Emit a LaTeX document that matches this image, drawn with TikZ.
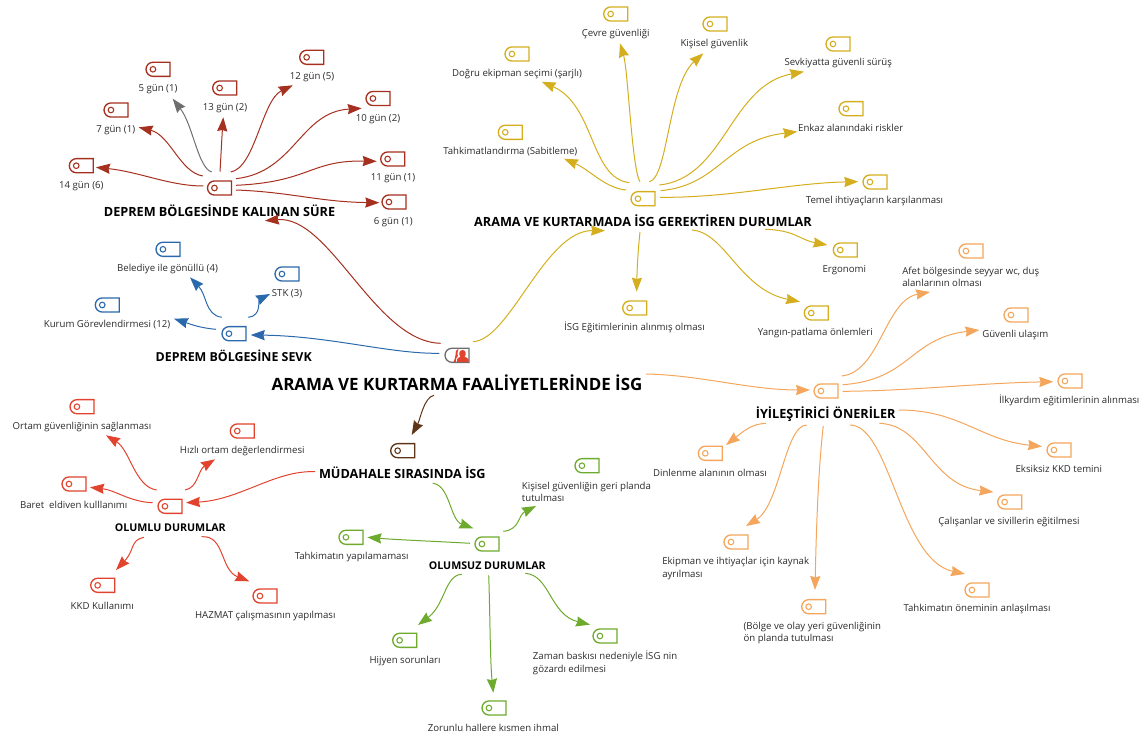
\documentclass[tikz,border=0pt]{standalone}
\usepackage{fontspec}
\setmainfont{Open Sans}
\usetikzlibrary{shapes.misc,arrows.meta}
\definecolor{cRed}{HTML}{A5301F}
\definecolor{cBlue}{HTML}{2A69AC}
\definecolor{cYel}{HTML}{D4AE1E}
\definecolor{cOra}{HTML}{F4A65C}
\definecolor{cBro}{HTML}{5F3517}
\definecolor{cCor}{HTML}{E2432E}
\definecolor{cGre}{HTML}{6DAA2D}
\definecolor{cGry}{HTML}{6E6E6E}
\definecolor{cTxt}{HTML}{2A2A2A}
\tikzset{
  tagbase/.style={rounded rectangle, rounded rectangle right arc=none, draw=#1, fill=white,
    line width=1pt, minimum width=18pt, minimum height=10.6pt, inner sep=0pt, outer sep=0pt},
  tagn/.style={tagbase=#1,
    path picture={\draw[#1,line width=.8pt] ([xshift=5.2pt]path picture bounding box.west) circle (2.1pt);}},
  lab/.style={inner sep=0pt, text=cTxt, font=\fontsize{7.22}{9.4}\selectfont, align=center},
  labl/.style={inner sep=0pt, text=cTxt, font=\fontsize{7.22}{9.4}\selectfont, align=left, anchor=west},
  head/.style={inner sep=0pt, text=black, font=\fontsize{9.5}{11}\selectfont\bfseries},
  subhead/.style={inner sep=0pt, text=black, font=\fontsize{8}{10}\selectfont\bfseries},
  rootlab/.style={inner sep=0pt, text=black, font=\fontsize{12.7}{14}\selectfont\bfseries},
  link/.style={draw=#1, line width=.75pt, -{Stealth[length=10.5pt,width=7.6pt,inset=1pt,fill=#1]}},
}
\begin{document}
\begin{tikzpicture}[x=0.75pt,y=-0.75pt]
\useasboundingbox (0,0) rectangle (1148,738);
% root
\node[tagbase=cGry] (root) at (457,355.3) {};
\fill[cCor] (457,362) -- (457,359.5) .. controls (457,357.5) and (459.5,357.5) .. (460.5,356.8) .. controls (458.5,355) and (458.8,350) .. (462.5,350) .. controls (466.2,350) and (466.5,355) .. (464.5,356.8) .. controls (465.5,357.5) and (468.5,357.5) .. (468.5,359.5) -- (468.5,362) -- cycle;
\fill[cCor] (453.5,362) .. controls (454,359) and (456,357.5) .. (455.5,355) .. controls (455,352) and (456,349.5) .. (458.6,348.6) .. controls (457.5,351) and (457,354) .. (457.8,356) .. controls (456.5,357.5) and (455.5,359.5) .. (455.8,362) -- cycle;
\node[rootlab] (rootl) at (457,382.3) {ARAMA VE KURTARMA FAALİYETLERİNDE İSG};

% stay branch
\node[tagn=cRed] (stay) at (219.5,188) {};
\node[head] (stayl) at (219.5,210.7) {DEPREM BÖLGESİNDE KALINAN SÜRE};
\node[tagn=cRed] (a14) at (81.3,165.7) {}; \node[lab] (a14l) at (81.3,186) {14 gün (6)};
\node[tagn=cRed] (a7) at (116,110) {};     \node[lab] (a7l) at (115.7,130) {7 gün (1)};
\node[tagn=cRed] (a5) at (158,69.3) {};    \node[lab] (a5l) at (158,89.3) {5 gün (1)};
\node[tagn=cRed] (a13) at (224.7,88) {};   \node[lab] (a13l) at (225,108) {13 gün (2)};
\node[tagn=cRed] (a12) at (311.7,57.3) {}; \node[lab] (a12l) at (312,77.3) {12 gün (5)};
\node[tagn=cRed] (a10) at (378,98.5) {};   \node[lab] (a10l) at (378,118.7) {10 gün (2)};
\node[tagn=cRed] (a11) at (392.7,159) {};  \node[lab] (a11l) at (393,178) {11 gün (1)};
\node[tagn=cRed] (a6) at (394,202) {};     \node[lab] (a6l) at (393.3,221.7) {6 gün (1)};

% blue branch
\node[tagn=cBlue] (sevk) at (234,333.7) {};
\node[head,font=\fontsize{9.3}{11}\selectfont\bfseries] (sevkl) at (233.7,355.7) {DEPREM BÖLGESİNE SEVK};
\node[tagn=cBlue] (b1) at (168,249.3) {};  \node[lab] (b1l) at (167.5,269) {Belediye ile gönüllü (4)};
\node[tagn=cBlue] (b2) at (287,274) {};    \node[lab] (b2l) at (287,294) {STK (3)};
\node[tagn=cBlue] (b3) at (107.3,305) {};  \node[lab] (b3l) at (107,324.7) {Kurum Görevlendirmesi (12)};

% yellow branch
\node[tagn=cYel] (c) at (643,198.7) {};
\node[head] (cl) at (643,220.7) {ARAMA VE KURTARMADA İSG GEREKTİREN DURUMLAR};
\node[tagn=cYel] (c1) at (615.7,14) {};    \node[lab] (c1l) at (615.7,34) {Çevre güvenliği};
\node[tagn=cYel] (c2) at (715,24) {};      \node[lab] (c2l) at (714.3,44) {Kişisel güvenlik};
\node[tagn=cYel] (c3) at (517,54) {};      \node[lab] (c3l) at (517,74) {Doğru ekipman seçimi (şarjlı)};
\node[tagn=cYel] (c4) at (510.3,132.3) {}; \node[lab] (c4l) at (510.3,152) {Tahkimatlandırma (Sabitleme)};
\node[tagn=cYel] (c5) at (838,44) {};      \node[lab] (c5l) at (838.3,63.3) {Sevkiyatta güvenli sürüş};
\node[tagn=cYel] (c6) at (851,108.7) {};   \node[lab] (c6l) at (850.7,128.3) {Enkaz alanındaki riskler};
\node[tagn=cYel] (c7) at (875,182) {};     \node[lab] (c7l) at (874.5,201.3) {Temel ihtiyaçların karşılanması};
\node[tagn=cYel] (c8) at (634.7,308) {};   \node[lab] (c8l) at (634.5,327.3) {İSG Eğitimlerinin alınmış olması};
\node[tagn=cYel] (c9) at (845.3,250) {};   \node[lab] (c9l) at (844.3,270) {Ergonomi};
\node[tagn=cYel] (c10) at (816.3,313) {};  \node[lab] (c10l) at (815.3,333.3) {Yangın-patlama önlemleri};

% orange branch
\node[tagn=cOra] (d) at (826,391) {};
\node[head] (dl) at (825.7,414) {İYİLEŞTİRİCİ ÖNERİLER};
\node[tagn=cOra] (d1) at (971,251) {};     \node[labl] (d1l) at (902,277) {Afet bölgesinde seyyar wc, duş\\alanlarının olması};
\node[tagn=cOra] (d2) at (1016,315) {};    \node[lab] (d2l) at (1015.3,335.3) {Güvenli ulaşım};
\node[tagn=cOra] (d3) at (1070,381) {};    \node[lab] (d3l) at (1069.3,400.7) {İlkyardım eğitimlerinin alınması};
\node[tagn=cOra] (d4) at (1059,450) {};    \node[lab] (d4l) at (1058.8,469.3) {Eksiksiz KKD temini};
\node[tagn=cOra] (d5) at (1009.7,502) {};  \node[lab] (d5l) at (1009,522) {Çalışanlar ve sivillerin eğitilmesi};
\node[tagn=cOra] (d6) at (977,590) {};     \node[lab] (d6l) at (977,609.3) {Tahkimatın öneminin anlaşılması};
\node[tagn=cOra] (d7) at (813.7,606.7) {}; \node[labl] (d7l) at (743.3,633) {(Bölge ve olay yeri güvenliğinin\\ön planda tutulması};
\node[tagn=cOra] (d8) at (736,542) {};     \node[labl] (d8l) at (662,568.3) {Ekipman ve ihtiyaçlar için kaynak\\ayrılması};
\node[tagn=cOra] (d9) at (710.3,453.3) {}; \node[lab] (d9l) at (710,473.3) {Dinlenme alanının olması};

% brown branch
\node[tagn=cBro] (e) at (402.7,450.7) {};
\node[head] (el) at (402.3,472.7) {MÜDAHALE SIRASINDA İSG};

% coral branch
\node[tagn=cCor] (f) at (170,506.3) {};
\node[subhead] (fl) at (170.3,527.7) {OLUMLU DURUMLAR};
\node[tagn=cCor] (f1) at (82,406.7) {};    \node[lab] (f1l) at (82,426.7) {Ortam güvenliğinin sağlanması};
\node[tagn=cCor] (f2) at (242.3,431) {};   \node[lab] (f2l) at (242.3,451) {Hızlı ortam değerlendirmesi};
\node[tagn=cCor] (f3) at (74,484) {};      \node[lab] (f3l) at (73.7,504.7) {Baret\ \ eldiven kulllanımı};
\node[tagn=cCor] (f4) at (102.7,585.3) {}; \node[lab] (f4l) at (102.3,606) {KKD Kullanımı};
\node[tagn=cCor] (f5) at (265,596) {};     \node[lab] (f5l) at (265.3,616) {HAZMAT çalışmasının yapılması};

% green branch
\node[tagn=cGre] (g) at (487,544) {};
\node[subhead] (gl) at (487.3,565.3) {OLUMSUZ DURUMLAR};
\node[tagn=cGre] (g1) at (587,465.7) {};   \node[labl] (g1l) at (521.7,491.7) {Kişisel güvenliğin geri planda\\tutulması};
\node[tagn=cGre] (g2) at (351,537.3) {};   \node[lab] (g2l) at (351.7,557.3) {Tahkimatın yapılamaması};
\node[tagn=cGre] (g3) at (404.7,640.3) {}; \node[lab] (g3l) at (405,660.7) {Hijyen sorunları};
\node[tagn=cGre] (g4) at (494,708) {};     \node[lab] (g4l) at (493.3,728) {Zorunlu hallere kısmen ihmal};
\node[tagn=cGre] (g5) at (605,636) {};     \node[labl] (g5l) at (532.7,663) {Zaman baskısı nedeniyle İSG nin\\gözardı edilmesi};

% connectors: root
\draw[link=cRed] ([shift={(-16.3,-12)}]root.center) .. controls (375,342) and (330,215) .. ([shift={(45.5,32.7)}]stay.center);
\draw[link=cBlue] ([shift={(-17.7,-2)}]root.center) .. controls (390,354) and (330,336) .. ([shift={(16.7,1.3)}]sevk.center);
\draw[link=cYel] ([shift={(16,-13.6)}]root.center) .. controls (510,340) and (545,230) .. ([shift={(-38,32)}]c.center);
\draw[link=cOra] ([shift={(189,18.7)}]root.center) .. controls (700,375) and (750,390) .. ([shift={(-16,-1)}]d.center);
\draw[link=cBro] ([shift={(-23,40)}]root.center) .. controls (424,397) and (420,420) .. ([shift={(9,-15.7)}]e.center);
% stay children
\draw[link=cRed] ([shift={(-16.2,-2)}]stay.center) .. controls (170,186) and (140,172) .. ([shift={(14.7,1.6)}]a14.center);
\draw[link=cRed] ([shift={(-16.8,-12)}]stay.center) .. controls (180,172) and (170,135) .. ([shift={(22.7,17.3)}]a7.center);
\draw[link=cGry] ([shift={(-7.8,-16)}]stay.center) .. controls (198,168) and (193,125) .. ([shift={(14.7,29.4)}]a5.center);
\draw[link=cRed] ([shift={(0.5,-16.3)}]stay.center) .. controls (221,155) and (222,135) .. ([shift={(-1.4,29.3)}]a13.center);
\draw[link=cRed] ([shift={(11.2,-16)}]stay.center) .. controls (255,168) and (262,100) .. ([shift={(-19,28)}]a12.center);
\draw[link=cRed] ([shift={(16.5,-9.3)}]stay.center) .. controls (295,172) and (300,112) .. ([shift={(-16.3,9.8)}]a10.center);
\draw[link=cRed] ([shift={(16.5,-2.7)}]stay.center) .. controls (310,182) and (310,160) .. ([shift={(-16,2.3)}]a11.center);
\draw[link=cRed] ([shift={(16.5,2)}]stay.center) .. controls (290,192) and (320,202) .. ([shift={(-14.7,.7)}]a6.center);
% blue children
\draw[link=cBlue] ([shift={(-12.3,-16.4)}]sevk.center) .. controls (205,315) and (207,295) .. ([shift={(22,28)}]b1.center);
\draw[link=cBlue] ([shift={(14.3,-16.4)}]sevk.center) .. controls (262,316) and (258,300) .. ([shift={(-17,20)}]b2.center);
\draw[link=cBlue] ([shift={(-18,-4.4)}]sevk.center) .. controls (200,328) and (190,324) .. ([shift={(66.7,13.7)}]b3.center);
% yellow children
\draw[link=cYel] ([shift={(-3,-17)}]c.center) .. controls (632,170) and (628,70) .. ([shift={(4.3,29.3)}]c1.center);
\draw[link=cYel] ([shift={(6.3,-17)}]c.center) .. controls (668,178) and (668,85) .. ([shift={(-11.7,29.3)}]c2.center);
\draw[link=cYel] ([shift={(-13.7,-16)}]c.center) .. controls (590,178) and (595,105) .. ([shift={(24.7,27.7)}]c3.center);
\draw[link=cYel] ([shift={(-17,-8.7)}]c.center) .. controls (605,188) and (590,170) .. ([shift={(53.7,26.4)}]c4.center);
\draw[link=cYel] ([shift={(16.3,-13.7)}]c.center) .. controls (725,178) and (730,85) .. ([shift={(-34,27.7)}]c5.center);
\draw[link=cYel] ([shift={(17.7,-8)}]c.center) .. controls (720,185) and (725,140) .. ([shift={(-53.7,23)}]c6.center);
\draw[link=cYel] ([shift={(17,-1.4)}]c.center) .. controls (730,198) and (790,183) .. ([shift={(-16.7,-.3)}]c7.center);
\draw[link=cYel] ([shift={(-3,33.3)}]c.center) .. controls (638,250) and (637,270) .. ([shift={(2,-16.3)}]c8.center);
\draw[link=cYel] ([shift={(122,30.6)}]c.center) .. controls (795,230) and (800,240) .. ([shift={(-18,-5)}]c9.center);
\draw[link=cYel] ([shift={(48.7,31.3)}]c.center) .. controls (725,232) and (740,290) .. ([shift={(-16.3,-11.3)}]c10.center);
% orange children
\draw[link=cOra] ([shift={(15.7,-15)}]d.center) .. controls (880,372) and (885,300) .. ([shift={(-41,41)}]d1.center);
\draw[link=cOra] ([shift={(16.7,-6.3)}]d.center) .. controls (910,380) and (910,338) .. ([shift={(-36.7,15)}]d2.center);
\draw[link=cOra] ([shift={(16.7,.3)}]d.center) .. controls (910,391) and (980,383) .. ([shift={(-16.7,.7)}]d3.center);
\draw[link=cOra] ([shift={(72.7,19)}]d.center) .. controls (960,410) and (980,440) .. ([shift={(-17,-3.5)}]d4.center);
\draw[link=cOra] ([shift={(53.3,32.3)}]d.center) .. controls (925,425) and (930,485) .. ([shift={(-16.4,-10)}]d5.center);
\draw[link=cOra] ([shift={(24,34)}]d.center) .. controls (890,425) and (900,560) .. ([shift={(-12,-16)}]d6.center);
\draw[link=cOra] ([shift={(-2.7,35)}]d.center) .. controls (818,470) and (816,540) .. ([shift={(1.3,-16.7)}]d7.center);
\draw[link=cOra] ([shift={(-19.3,34)}]d.center) .. controls (785,425) and (780,505) .. ([shift={(10,-16)}]d8.center);
\draw[link=cOra] ([shift={(-60,32.3)}]d.center) .. controls (752,424) and (745,430) .. ([shift={(15.7,-8.3)}]d9.center);
% brown children
\draw[link=cCor] ([shift={(-87.7,21)}]e.center) .. controls (275,470) and (240,500) .. ([shift={(16,-3.6)}]f.center);
\draw[link=cGre] ([shift={(30,32.6)}]e.center) .. controls (450,485) and (450,520) .. ([shift={(-13.7,-15.7)}]g.center);
% coral children
\draw[link=cCor] ([shift={(-13.3,-16.3)}]f.center) .. controls (135,487) and (130,450) .. ([shift={(24,28.6)}]f1.center);
\draw[link=cCor] ([shift={(15,-16.3)}]f.center) .. controls (198,488) and (198,470) .. ([shift={(-27.3,28.3)}]f2.center);
\draw[link=cCor] ([shift={(-17.3,-3.6)}]f.center) .. controls (130,502) and (115,490) .. ([shift={(16,3.3)}]f3.center);
\draw[link=cCor] ([shift={(-26,31)}]f.center) .. controls (130,540) and (135,550) .. ([shift={(13.3,-15.3)}]f4.center);
\draw[link=cCor] ([shift={(31.7,30.4)}]f.center) .. controls (225,535) and (220,570) .. ([shift={(-15.7,-14.7)}]f5.center);
% green children
\draw[link=cGre] ([shift={(16.3,-12.7)}]g.center) .. controls (520,530) and (518,515) .. ([shift={(-51,40.3)}]g1.center);
\draw[link=cGre] ([shift={(-17,-.7)}]g.center) .. controls (430,541) and (400,540) .. ([shift={(16.3,0)}]g2.center);
\draw[link=cGre] ([shift={(-25.3,30.3)}]g.center) .. controls (445,575) and (445,605) .. ([shift={(13.3,-15.3)}]g3.center);
\draw[link=cGre] ([shift={(1.7,31.3)}]g.center) .. controls (490,610) and (490,660) .. ([shift={(-.7,-15.3)}]g4.center);
\draw[link=cGre] ([shift={(38.3,29.3)}]g.center) .. controls (550,575) and (550,615) .. ([shift={(-15,-11.3)}]g5.center);
\end{tikzpicture}
\end{document}
